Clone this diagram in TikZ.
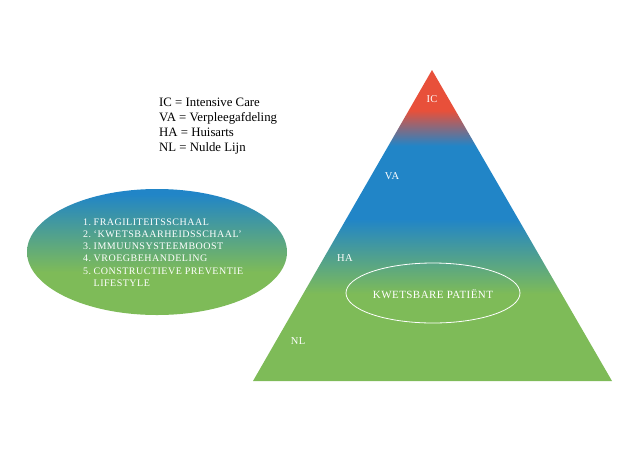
\documentclass[tikz,border=0pt]{standalone}
\usepackage{fontspec}
\setmainfont{Liberation Serif}
\usetikzlibrary{shapes.geometric}
\definecolor{icred}{HTML}{E8503A}
\definecolor{vablue}{HTML}{2185C7}
\definecolor{nlgreen}{HTML}{7EBB58}
\pgfdeclareverticalshading{pyramidshade}{100bp}{color(0bp)=(nlgreen); color(39bp)=(nlgreen); color(51bp)=(vablue); color(62.8bp)=(vablue); color(68.5bp)=(icred); color(100bp)=(icred)}
\pgfdeclareverticalshading{ovalshade}{100bp}{color(0bp)=(nlgreen); color(42bp)=(nlgreen); color(73bp)=(vablue); color(100bp)=(vablue)}
\begin{document}
\begin{tikzpicture}[x=1pt,y=-1pt,
  lvl/.style={text=white,font=\fontsize{10.5}{11}\selectfont\addfontfeature{LetterSpace=4}},
  legend/.style={align=left,font=\fontsize{12.8}{15}\selectfont,inner sep=0pt},
  listtext/.style={text=white,font=\fontsize{10}{12.2}\selectfont\addfontfeature{LetterSpace=5},inner sep=0pt}]
\useasboundingbox (0,0) rectangle (640,451);
% pyramid
\coordinate (apex) at (432,70);
\coordinate (bl) at (253,381);
\coordinate (br) at (612,381);
\shade[shading=pyramidshade] (apex) -- (br) -- (bl) -- cycle;
\node[lvl] (ic) at (432,99) {IC};
\node[lvl] (va) at (392,176) {VA};
\node[lvl] (ha) at (345,258) {HA};
\node[lvl] (nl) at (298,341) {NL};
\node[draw=white,line width=0.8pt,ellipse,minimum width=174pt,minimum height=60pt,inner sep=0pt] (kp) at (433,293) {};
\node[lvl,font=\fontsize{11}{12}\selectfont\addfontfeature{LetterSpace=4}] (kpt) at (433,294) {KWETSBARE PATIËNT};
% left oval
\shade[shading=ovalshade] (157,252) ellipse [x radius=130, y radius=63];
\node[listtext,anchor=north west] (list) at (83,216.5) {\begin{tabular}{@{}l@{\hspace{2.5pt}}l@{}}
1. & FRAGILITEITSSCHAAL\\
2. & ‘KWETSBAARHEIDSSCHAAL’\\
3. & IMMUUNSYSTEEMBOOST\\
4. & VROEGBEHANDELING\\
5. & CONSTRUCTIEVE PREVENTIE\\
   & LIFESTYLE
\end{tabular}};
% legend
\node[legend,anchor=north west] (leg) at (159,98) {IC = Intensive Care\\VA = Verpleegafdeling\\HA = Huisarts\\NL = Nulde Lijn};
\end{tikzpicture}
\end{document}
